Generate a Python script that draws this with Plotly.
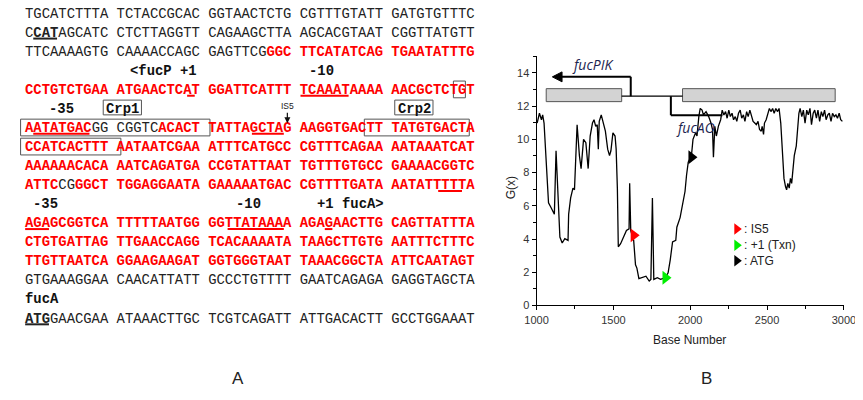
import plotly.graph_objects as go

W, H = 863, 400
OFF = 8            # page body margin (CSS px) that shifts the figure in the viewer
S = 1.0            # page-to-screenshot scale

# ---------------- Panel A: sequence data ----------------
seq_rows = [
    "TGCATCTTTA TCTACCGCAC GGTAACTCTG CGTTTGTATT GATGTGTTTC",
    "CCATAGCATC CTCTTAGGTT CAGAAGCTTA AGCACGTAAT CGGTTATGTT",
    "TTCAAAAGTG CAAAACCAGC GAGTTCGGGC TTCATATCAG TGAATATTTG",
    None,
    "CCTGTCTGAA ATGAACTCAT GGATTCATTT TCAAATAAAA AACGCTCTGT",
    None,
    "AATATGACGG CGGTCACACT TATTAGCTAG AAGGTGACTT TATGTGACTA",
    "CCATCACTTT AATAATCGAA ATTTCATGCC CGTTTCAGAA AATAAATCAT",
    "AAAAAACACA AATCAGATGA CCGTATTAAT TGTTTGTGCC GAAAACGGTC",
    "ATTCCGGGCT TGGAGGAATA GAAAAATGAC CGTTTTGATA AATATTTTTA",
    None,
    "AGAGCGGTCA TTTTTAATGG GGTTATAAAA AGAGAACTTG CAGTTATTTA",
    "CTGTGATTAG TTGAACCAGG TCACAAAATA TAAGCTTGTG AATTTCTTTC",
    "TTGTTAATCA GGAAGAAGAT GGTGGGTAAT TAAACGGCTA ATTCAATAGT",
    "GTGAAAGGAA CAACATTATT GCCCTGTTTT GAATCAGAGA GAGGTAGCTA",
    None,
    "ATGGAACGAA ATAAACTTGC TCGTCAGATT ATTGACACTT GCCTGGAAAT",
]
# red (promoter region) spans per row: (first char, last char)
red_spans = {
    2: [(29, 53)],
    4: [(0, 53)],
    6: [(0, 7), (16, 53)],
    7: [(0, 53)],
    8: [(0, 53)],
    9: [(0, 3), (6, 53)],
    11: [(0, 53)],
    12: [(0, 53)],
    13: [(0, 53)],
}
bold_spans = {1: [(1, 3)], 16: [(0, 2)]}
underline_spans = [
    (1, 1, 3, "#222222"), (4, 20, 20, "#ff0000"), (4, 34, 39, "#ff0000"),
    (6, 1, 7, "#ff0000"), (6, 28, 31, "#ff0000"), (9, 51, 53, "#ff0000"),
    (11, 0, 2, "#ff0000"), (11, 25, 31, "#ff0000"), (11, 37, 37, "#ff0000"),
    (16, 0, 2, "#222222"),
]
# labels: (row, col, text, boxed)
seq_labels = [
    (3, 13, "&lt;fucP +1", False), (3, 35, "-10", False),
    (5, 3, "-35", False), (5, 10, "Crp1", True), (5, 46, "Crp2", True),
    (10, 1, "-35", False), (10, 26, "-10", False), (10, 36, "+1 fucA&gt;", False),
    (15, 0, "fucA", False),
]
# boxed sequence sites: (row, first char, last char)
site_boxes = [(4, 53, 53), (6, 0, 22), (6, 42, 53), (7, 0, 11)]

# ---------------- Panel B: G(x) profile ----------------
base_number = [
    1004, 1019, 1032, 1040, 1049, 1068, 1078, 1095, 1116, 1127, 1138, 1152, 1167, 1184,
    1205, 1209, 1222, 1237, 1247, 1264, 1279, 1290, 1306, 1321, 1336, 1349, 1364, 1374,
    1385, 1395, 1402, 1408, 1421, 1433, 1448, 1463, 1475, 1484, 1497, 1511, 1518, 1526,
    1532, 1547, 1564, 1585, 1602, 1606, 1613, 1632, 1644, 1653, 1666, 1691, 1712, 1733,
    1744, 1754, 1763, 1786, 1807, 1839, 1856, 1870, 1885, 1906, 1913, 1934, 1949, 1966,
    1976, 1987, 2008, 2018, 2035, 2044, 2056, 2065, 2077, 2086, 2103, 2120, 2135, 2145,
    2151, 2160, 2170, 2183, 2198, 2208, 2219, 2230, 2240, 2251, 2261, 2272, 2282, 2293,
    2303, 2314, 2325, 2335, 2346, 2356, 2367, 2377, 2388, 2398, 2409, 2420, 2430, 2441,
    2451, 2462, 2468, 2477, 2483, 2494, 2504, 2515, 2525, 2536, 2546, 2557, 2567, 2578,
    2589, 2595, 2601, 2610, 2620, 2627, 2635, 2644, 2652, 2660, 2669, 2677, 2690, 2698,
    2707, 2715, 2726, 2736, 2747, 2758, 2768, 2779, 2789, 2800, 2810, 2821, 2831, 2842,
    2853, 2863, 2874, 2884, 2895, 2905, 2916, 2926, 2937, 2948, 2958, 2969, 2979, 2990,
]
g_value = [
    10.98, 11.57, 11.18, 11.47, 10.98, 8.04, 6.18, 5.88, 5.49, 9.31, 7.06, 4.12, 3.76, 4.02,
    3.92, 5.49, 6.47, 7.06, 6.96, 10.88, 9.02, 8.24, 10.0, 9.8, 8.24, 10.2, 10.98, 11.18,
    10.78, 10.88, 9.41, 11.08, 11.47, 11.08, 10.49, 9.41, 9.02, 9.31, 10.39, 10.2, 9.41, 7.06,
    3.53, 3.72, 4.12, 4.51, 4.61, 7.35, 4.51, 3.92, 2.45, 2.25, 1.61, 1.67, 1.76, 1.47,
    1.57, 6.47, 1.57, 1.67, 1.57, 1.67, 1.96, 2.75, 3.82, 3.92, 4.71, 5.29, 6.08, 6.86,
    7.84, 8.63, 9.02, 10.0, 10.39, 10.2, 11.37, 11.86, 11.76, 11.47, 11.67, 11.37, 10.98, 10.59,
    8.92, 10.78, 10.2, 10.78, 11.18, 11.76, 11.47, 11.67, 11.27, 11.76, 11.37, 11.57, 11.18, 11.37,
    11.08, 11.57, 11.76, 11.27, 11.47, 11.08, 11.67, 11.37, 11.76, 11.47, 11.08, 10.98, 10.88, 11.08,
    10.59, 10.49, 10.78, 10.29, 10.98, 11.18, 11.57, 11.86, 11.67, 11.86, 11.57, 11.86, 11.67, 11.86,
    10.98, 9.8, 8.63, 7.65, 7.16, 6.96, 7.35, 7.06, 7.65, 7.35, 8.24, 9.02, 9.61, 10.59,
    11.57, 11.86, 11.37, 11.76, 10.98, 11.76, 11.47, 11.86, 10.88, 11.57, 11.76, 11.27, 11.76, 11.08,
    11.67, 11.37, 11.76, 11.18, 11.47, 11.57, 11.08, 11.57, 11.37, 11.47, 11.27, 11.57, 11.18, 11.08,
]
site_names = ["IS5", "+1 (Txn)", "ATG"]
site_base = [1632, 1839, 2008]
site_g = [4.22, 1.67, 8.92]
site_colors = ["#ff0000", "#00ee00", "#000000"]

# gene diagram (data coordinates)
genes = [("fucPIK", 1063, 1554), ("fucAO", 1950, 2943)]

# ---------------- layout helpers ----------------
X0, CW = 13.3, 8.33      # first char x, char width (screen px)
Y0, DY = 12.3, 19.34     # first row center, row pitch (screen px)
TY = 1.5                 # small vertical nudge for text glyph centring


def fs(v):
    return v / S


def fx(P):
    return min(1.0, max(0.0, (P / S - OFF) / W))


def fy(P):
    return min(1.0, max(0.0, 1 - (P / S - OFF) / H))


def cx(i):
    return X0 + i * CW


def ry(r):
    return Y0 + r * DY


def in_spans(i, spans):
    return any(a <= i <= b for a, b in spans)


def row_html(r, s):
    reds = red_spans.get(r, [])
    bolds = bold_spans.get(r, [])
    states = ["r" if in_spans(i, reds) else ("b" if in_spans(i, bolds) else "k") for i in range(len(s))]
    out, i = "", 0
    while i < len(s):
        j = i
        while j < len(s) and states[j] == states[i]:
            j += 1
        chunk = s[i:j]
        if states[i] == "r":
            out += '<span style="color:#ff0000"><b>' + chunk + "</b></span>"
        elif states[i] == "b":
            out += "<b>" + chunk + "</b>"
        else:
            out += chunk
        i = j
    return out


annotations = []
shapes = []
mono = "Liberation Mono, Courier New, monospace"
sans = "Liberation Sans, Arial, sans-serif"
FS = fs(CW / 0.6)

for r, s in enumerate(seq_rows):
    if s is None:
        continue
    annotations.append(dict(
        x=fx(cx(0)), y=fy(ry(r) + TY), xref="paper", yref="paper", xanchor="left", yanchor="middle",
        text=row_html(r, s), showarrow=False, borderpad=0, borderwidth=0,
        font=dict(family=mono, size=FS, color="#222222")))

for r, c, t, boxed in seq_labels:
    annotations.append(dict(
        x=fx(cx(c)), y=fy(ry(r) + TY), xref="paper", yref="paper", xanchor="left", yanchor="middle",
        text="<b>" + t + "</b>", showarrow=False, borderpad=0, borderwidth=0,
        font=dict(family=mono, size=FS, color="#111111")))
    if boxed:
        n = len(t)
        shapes.append(dict(type="rect", xref="paper", yref="paper",
                           x0=fx(cx(c) - 3), x1=fx(cx(c + n) + 3),
                           y0=fy(ry(r) - 7.5), y1=fy(ry(r) + 7.5),
                           line=dict(color="#555555", width=1)))

for r, a, b, col in underline_spans:
    yy = ry(r) + 7.4
    shapes.append(dict(type="line", xref="paper", yref="paper",
                       x0=fx(cx(a)), x1=fx(cx(b + 1) - 0.5), y0=fy(yy), y1=fy(yy),
                       line=dict(color=col, width=2)))

for r, a, b in site_boxes:
    left = max(cx(a) - (7 if a == 0 else 1), OFF * S + 0.6)
    right = cx(b + 1) + (7 if b == 53 and a != 53 else (3 if a == 53 else -1.5))
    shapes.append(dict(type="rect", xref="paper", yref="paper",
                       x0=fx(left), x1=fx(right), y0=fy(ry(r) - 7.5), y1=fy(ry(r) + 9.5),
                       line=dict(color="#555555", width=1)))

# IS5 small label with down arrow (panel A)
annotations.append(dict(x=fx(283), y=fy(107), xref="paper", yref="paper", text="IS5",
                        xanchor="center", yanchor="middle",
                        showarrow=False, font=dict(family=sans, size=fs(8.5), color="#222")))
annotations.append(dict(x=fx(283), y=fy(125), xref="paper", yref="paper",
                        axref="pixel", ayref="pixel", ax=0, ay=-12, text="", showarrow=True, arrowhead=2,
                        arrowsize=1, arrowwidth=1.2, arrowcolor="#111"))

# panel letters
for letter, x in [("A", 232), ("B", 714)]:
    annotations.append(dict(x=fx(x), y=fy(384), xref="paper", yref="paper", text=letter,
                            xanchor="center", yanchor="middle",
                            showarrow=False, font=dict(family=sans, size=fs(17), color="#222")))

# ---------------- Panel B figure ----------------
fig = go.Figure()
fig.add_trace(go.Scatter(x=base_number, y=g_value, mode="lines",
                         line=dict(color="#000000", width=1.3), showlegend=False, hoverinfo="skip"))
fig.add_trace(go.Scatter(x=site_base, y=site_g, mode="markers", showlegend=False,
                         marker=dict(symbol="triangle-right", size=fs(12), color=site_colors,
                                     line=dict(width=0))))

# gene boxes and connecting lines
for name, a, b in genes:
    shapes.append(dict(type="rect", xref="x", yref="y", x0=a, x1=b, y0=12.27, y1=13.05,
                       fillcolor="#d3d3d3", line=dict(color="#555555", width=1), layer="above"))
shapes.append(dict(type="line", xref="x", yref="y", x0=1554, x1=1950, y0=12.6, y1=12.6,
                   line=dict(color="#000", width=1.3)))
# fucPIK promoter arrow
shapes.append(dict(type="line", xref="x", yref="y", x0=1613, x1=1613, y0=12.6, y1=13.76,
                   line=dict(color="#000", width=2)))
shapes.append(dict(type="line", xref="x", yref="y", x0=1613, x1=1150, y0=13.76, y1=13.76,
                   line=dict(color="#000", width=2)))
shapes.append(dict(type="path", xref="x", yref="y",
                   path="M 1103 13.76 L 1166 14.06 L 1166 13.46 Z", fillcolor="#000",
                   line=dict(color="#000", width=1)))
# fucAO promoter line
shapes.append(dict(type="line", xref="x", yref="y", x0=1874, x1=1874, y0=12.6, y1=11.45,
                   line=dict(color="#000", width=2)))
shapes.append(dict(type="line", xref="x", yref="y", x0=1874, x1=2210, y0=11.45, y1=11.45,
                   line=dict(color="#000", width=2)))

annotations.append(dict(x=1366, y=14.5, xref="x", yref="y", text="<i>fucPIK</i>", showarrow=False,
                        xanchor="center", yanchor="middle",
                        font=dict(family="Open Sans, Liberation Sans", size=fs(14), color="#1c2450")))
annotations.append(dict(x=2036, y=10.7, xref="x", yref="y", text="<i>fucAO</i>", showarrow=False,
                        xanchor="center", yanchor="middle",
                        font=dict(family="Open Sans, Liberation Sans", size=fs(14), color="#1c2450")))

# legend for triangles
leg_g = [4.6, 3.63, 2.69]
fig.add_trace(go.Scatter(x=[2303, 2303, 2303], y=leg_g, mode="markers", showlegend=False,
                         marker=dict(symbol="triangle-right", size=fs(10), color=site_colors,
                                     line=dict(width=0))))
for name, g in zip(site_names, leg_g):
    annotations.append(dict(x=2335, y=g, xref="x", yref="y", xanchor="left", yanchor="middle",
                            text=": " + name, showarrow=False,
                            font=dict(family=sans, size=fs(12), color="#222")))

# axis titles
annotations.append(dict(x=fx(513), y=fy(190), xref="paper", yref="paper", text="G(x)", textangle=-90,
                        xanchor="center", yanchor="middle",
                        showarrow=False, font=dict(family=sans, size=fs(12), color="#222")))
annotations.append(dict(x=fx(697), y=fy(345), xref="paper", yref="paper", text="Base Number",
                        xanchor="center", yanchor="middle",
                        showarrow=False, font=dict(family=sans, size=fs(12), color="#222")))

tickfont = dict(family=sans, size=fs(11), color="#333")
fig.update_layout(
    width=W, height=H, margin=dict(l=0, r=0, t=0, b=0),
    paper_bgcolor="white", plot_bgcolor="white",
    xaxis=dict(domain=[fx(539.3), fx(855.5)], range=[1000, 3000], dtick=500, tick0=1000,
               showline=True, linecolor="#000", linewidth=1, ticks="outside", ticklen=4,
               tickcolor="#000", showgrid=False, zeroline=False, tickfont=tickfont,
               minor=dict(ticks="outside", ticklen=2.5, dtick=250, tickcolor="#000", showgrid=False)),
    yaxis=dict(domain=[fy(310), fy(57)], range=[0, 15], dtick=2, tick0=0,
               showline=True, linecolor="#000", linewidth=1, ticks="outside", ticklen=4,
               tickcolor="#000", showgrid=False, zeroline=False, tickfont=tickfont,
               minor=dict(ticks="outside", ticklen=2.5, dtick=1, tickcolor="#000", showgrid=False)),
    shapes=shapes, annotations=annotations,
)

fig.write_html("out.html")
